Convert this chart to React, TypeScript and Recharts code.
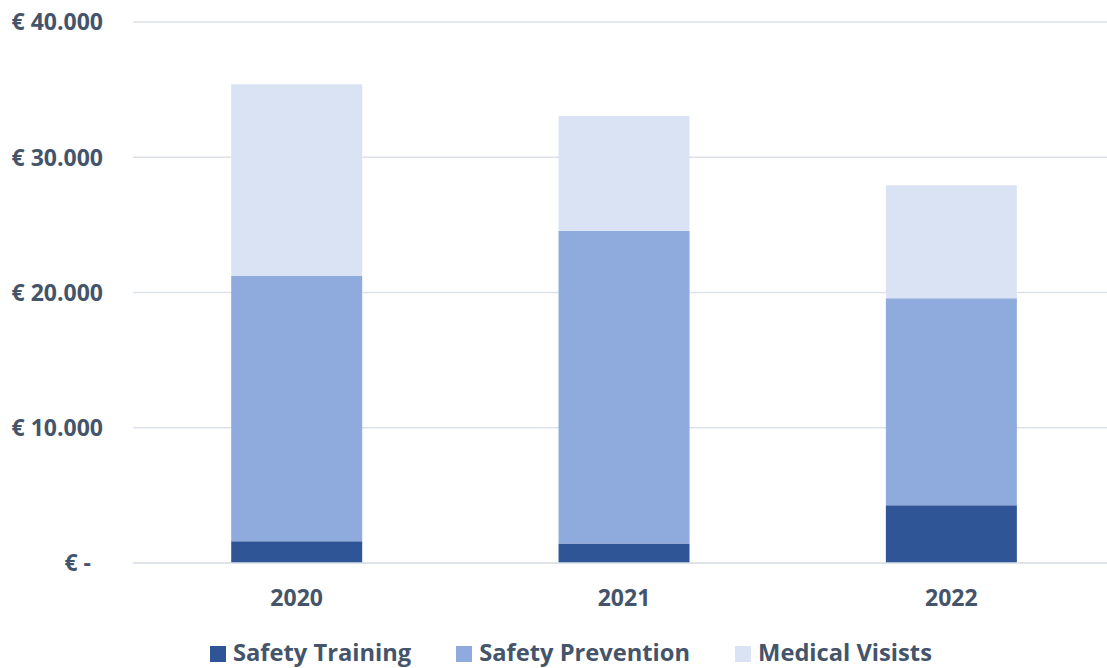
import React from 'react';
import { BarChart, Bar, XAxis, YAxis, CartesianGrid, Legend } from 'recharts';

const categories = ['2020', '2021', '2022'];
const safetyTraining = [1600, 1450, 4270];
const safetyPrevention = [19620, 23120, 15300];
const medicalVisits = [14170, 8480, 8360];
const yTicks = [0, 10000, 20000, 30000, 40000];

const seriesNames = ['Safety Training', 'Safety Prevention', 'Medical Visists'];
const seriesColors = ['#2F5597', '#8FAADC', '#DAE3F3'];
const seriesKeys = ['training', 'prevention', 'medical'];

const data = categories.map((c, i) => ({
  year: c,
  training: safetyTraining[i],
  prevention: safetyPrevention[i],
  medical: medicalVisits[i],
}));

const TEXT = '#44546A';
const FONT = '"Open Sans", sans-serif';

const fmt = (v: number) => {
  if (v === 0) return '€ -';
  return '€ ' + v.toLocaleString('de-DE');
};

const YTick = (props: any) => {
  const { x, y, payload } = props;
  const v = payload.value;
  const tx = v === 0 ? x - 12 : x;
  return (
    <text x={tx} y={y} dy="0.36em" textAnchor="end" fill={TEXT} fontFamily={FONT} fontWeight={700} fontSize={23}>
      {fmt(v)}
    </text>
  );
};

const LegendContent = () => (
  <div style={{ display: 'flex', alignItems: 'center', boxSizing: 'border-box', height: 40, paddingTop: 8, paddingLeft: 210, fontFamily: FONT, fontWeight: 700, fontSize: 23.7, lineHeight: '30px', color: TEXT }}>
    {seriesNames.map((n, i) => (
      <div key={n} style={{ display: 'flex', alignItems: 'center', marginRight: 45 }}>
        <div style={{ width: 16, height: 16, background: seriesColors[i], marginRight: 7, marginTop: 3 }} />
        <span style={{ whiteSpace: 'nowrap' }}>{n}</span>
      </div>
    ))}
  </div>
);

export default function App() {
  return (
    <div style={{ position: 'absolute', left: 0, top: 0, width: 1107, height: 668, overflow: 'hidden', background: '#fff' }}>
      <BarChart
        width={1120}
        height={668}
        data={data}
        margin={{ top: 22, right: 5, left: 0, bottom: 0 }}
        barCategoryGap="30%"
      >
        <CartesianGrid vertical={false} stroke="#DDE2E9" strokeWidth={1.5} />
        <XAxis
          dataKey="year"
          height={65}
          axisLine={{ stroke: '#DDE2E9', strokeWidth: 1.5 }}
          tickLine={false}
          tickMargin={21}
          tick={{ fill: TEXT, fontFamily: FONT, fontWeight: 700, fontSize: 23 }}
        />
        <YAxis
          width={133}
          domain={[0, 40000]}
          ticks={yTicks}
          axisLine={false}
          tickLine={false}
          tickMargin={24}
          tick={<YTick />}
        />
        <Legend verticalAlign="bottom" height={40} content={<LegendContent />} wrapperStyle={{ left: 0, bottom: 0, width: 1107 }} />
        {seriesKeys.map((k, i) => (
          <Bar key={k} dataKey={k} name={seriesNames[i]} stackId="a" fill={seriesColors[i]} isAnimationActive={false} />
        ))}
      </BarChart>
    </div>
  );
}
